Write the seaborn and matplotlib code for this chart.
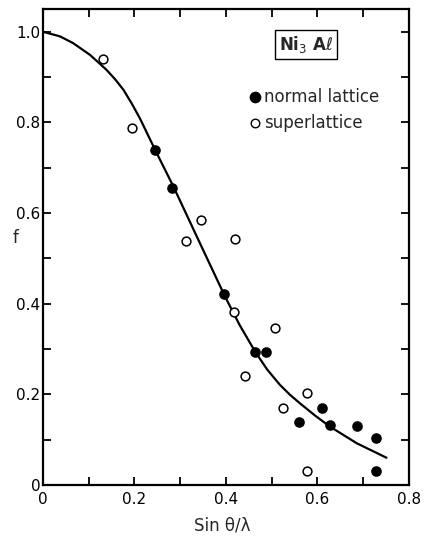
import matplotlib
matplotlib.use("Agg")
import matplotlib.pyplot as plt
import seaborn as sns
import pandas as pd

# normal lattice (filled)
normal_x = [0.245, 0.283, 0.396, 0.464, 0.487, 0.560, 0.611, 0.628, 0.686, 0.729, 0.729]
normal_f = [0.740, 0.656, 0.422, 0.294, 0.294, 0.139, 0.170, 0.133, 0.130, 0.103, 0.031]

# superlattice (open)
super_x = [0.131, 0.195, 0.313, 0.345, 0.420, 0.418, 0.507, 0.442, 0.524, 0.578, 0.577]
super_f = [0.940, 0.788, 0.539, 0.585, 0.543, 0.382, 0.347, 0.241, 0.170, 0.203, 0.031]

# fitted curve
curve_x = [0.0, 0.037, 0.066, 0.103, 0.139, 0.158, 0.176, 0.194, 0.212, 0.245, 0.285, 0.343,
           0.398, 0.430, 0.464, 0.490, 0.518, 0.540, 0.562, 0.595, 0.627, 0.686, 0.751]
curve_f = [1.0, 0.990, 0.975, 0.949, 0.916, 0.895, 0.872, 0.842, 0.809, 0.740, 0.659, 0.534,
           0.416, 0.353, 0.294, 0.255, 0.221, 0.199, 0.180, 0.153, 0.129, 0.092, 0.060]

x_ticks = [0.0, 0.2, 0.4, 0.6, 0.8]
x_labels = ["0", "0.2", "0.4", "0.6", "0.8"]
y_ticks = [0.0, 0.2, 0.4, 0.6, 0.8, 1.0]
y_labels = ["0", "0.2", "0.4", "0.6", "0.8", "1.0"]

sns.set_style("ticks")
plt.rcParams["font.family"] = ["DejaVu Sans"]

fig = plt.figure(figsize=(4.25, 5.37), dpi=100)
ax = fig.add_axes([0.101, 0.097, 0.861, 0.886])

curve = pd.DataFrame({"x": curve_x, "f": curve_f})
sns.lineplot(data=curve, x="x", y="f", color="black", lw=1.6, ax=ax)

sns.scatterplot(x=normal_x, y=normal_f, color="black", edgecolor="black",
                s=44, linewidth=1, ax=ax, zorder=3)
sns.scatterplot(x=super_x, y=super_f, facecolor="white", edgecolor="black",
                s=40, linewidth=1.1, ax=ax, zorder=3)

ax.set_xlim(0, 0.8)
ax.set_ylim(0, 1.05)
ax.set_xticks(x_ticks)
ax.set_xticklabels(x_labels)
ax.set_yticks(y_ticks)
ax.set_yticklabels(y_labels)
ax.set_xticks([0.1, 0.3, 0.5, 0.7], minor=True)
ax.set_yticks([0.1, 0.3, 0.5, 0.7, 0.9], minor=True)
ax.tick_params(which="both", direction="in", top=True, right=True,
               width=1.3, labelsize=11, color="black", labelcolor="black")
ax.tick_params(which="major", length=6)
ax.tick_params(which="minor", length=6)
ax.tick_params(axis="x", which="major", pad=5)
ax.tick_params(axis="y", which="major", pad=2)
for s in ax.spines.values():
    s.set_linewidth(1.6)
    s.set_color("black")

ax.set_xlabel("Sin θ/λ", fontsize=12, va="center")
ax.xaxis.set_label_coords(0.49, -0.086)
ax.set_ylabel("f", fontsize=12, rotation=0)
ax.yaxis.set_label_coords(-0.075, 0.5)

# legend drawn by hand
ax.text(0.719, 0.926, r"Ni$_3$ A$\ell$", fontsize=12, fontweight="bold",
        ha="center", va="center", transform=ax.transAxes,
        bbox=dict(boxstyle="square,pad=0.25", fc="white", ec="black", lw=1))
ax.scatter([0.579], [0.815], transform=ax.transAxes, s=55, color="black", clip_on=False)
ax.text(0.604, 0.815, "normal lattice", fontsize=12, va="center", transform=ax.transAxes)
ax.scatter([0.579], [0.761], transform=ax.transAxes, s=38, facecolor="white",
           edgecolor="black", linewidth=1, clip_on=False)
ax.text(0.604, 0.761, "superlattice", fontsize=12, va="center", transform=ax.transAxes)

fig.savefig("out.png", dpi=100)
